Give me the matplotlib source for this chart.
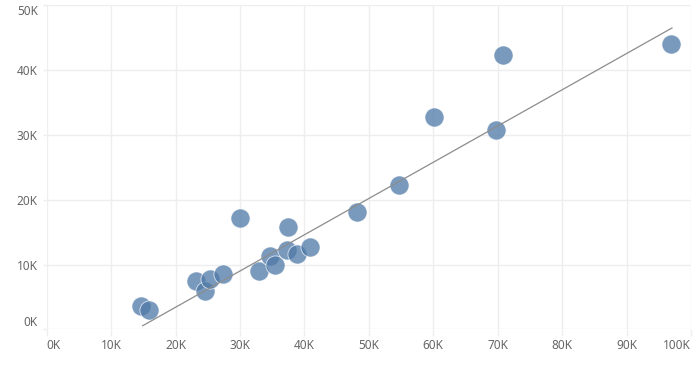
import matplotlib
matplotlib.use("Agg")
import matplotlib.pyplot as plt
from matplotlib.ticker import FuncFormatter

# values (thousands)
x_vals = [14.7, 15.9, 23.1, 24.5, 25.3, 27.3, 33.0, 34.6, 35.4, 37.3,
          38.8, 40.9, 30.0, 37.4, 48.1, 54.7, 60.1, 69.8, 70.8, 96.85]
y_vals = [3.6, 3.0, 7.5, 5.9, 7.7, 8.6, 8.95, 11.3, 9.9, 12.2,
          11.6, 12.7, 17.2, 15.8, 18.1, 22.3, 32.8, 30.8, 42.4, 44.1]

# trend line end points (thousands)
trend_x = [14.9, 97.05]
trend_y = [0.55, 46.5]

x_ticks = [0, 10, 20, 30, 40, 50, 60, 70, 80, 90, 100]
y_ticks = [0, 10, 20, 30, 40, 50]

plt.rcParams['font.family'] = ['Noto Sans', 'DejaVu Sans']

fig = plt.figure(figsize=(7, 3.65), dpi=100)
ax = fig.add_axes([46.7 / 700, 35.7 / 365, (691 - 46.7) / 700, (329.3 - 5.3) / 365])

ax.scatter(x_vals, y_vals, s=190, color='#4e79a7', alpha=0.75,
           edgecolors='white', linewidths=0.6, zorder=3)
ax.plot(trend_x, trend_y, color='#8c8c8c', linewidth=0.9, zorder=4)

ax.set_xlim(0, 100)
ax.set_ylim(0, 50)
ax.set_xticks(x_ticks)
ax.set_yticks(y_ticks)
fmt = FuncFormatter(lambda v, p: f"{int(v)}K")
ax.xaxis.set_major_formatter(fmt)
ax.yaxis.set_major_formatter(fmt)

ax.grid(True, color='#eeeeee', linewidth=1)
ax.set_axisbelow(True)
for s in ax.spines.values():
    s.set_visible(False)

ax.tick_params(axis='x', length=5, width=1, color='#eeeeee', pad=2,
               labelsize=8.5, labelcolor='#666666')
ax.tick_params(axis='y', length=3, width=1, color='#eeeeee', pad=3.5,
               labelsize=8.5, labelcolor='#666666')

# end labels sit inside the axis range
xl = ax.get_xticklabels()
xl[0].set_ha('left')
xl[-1].set_ha('right')
yl = ax.get_yticklabels()
yl[0].set_va('bottom')
yl[-1].set_va('top')

fig.savefig("out.png", dpi=100)
